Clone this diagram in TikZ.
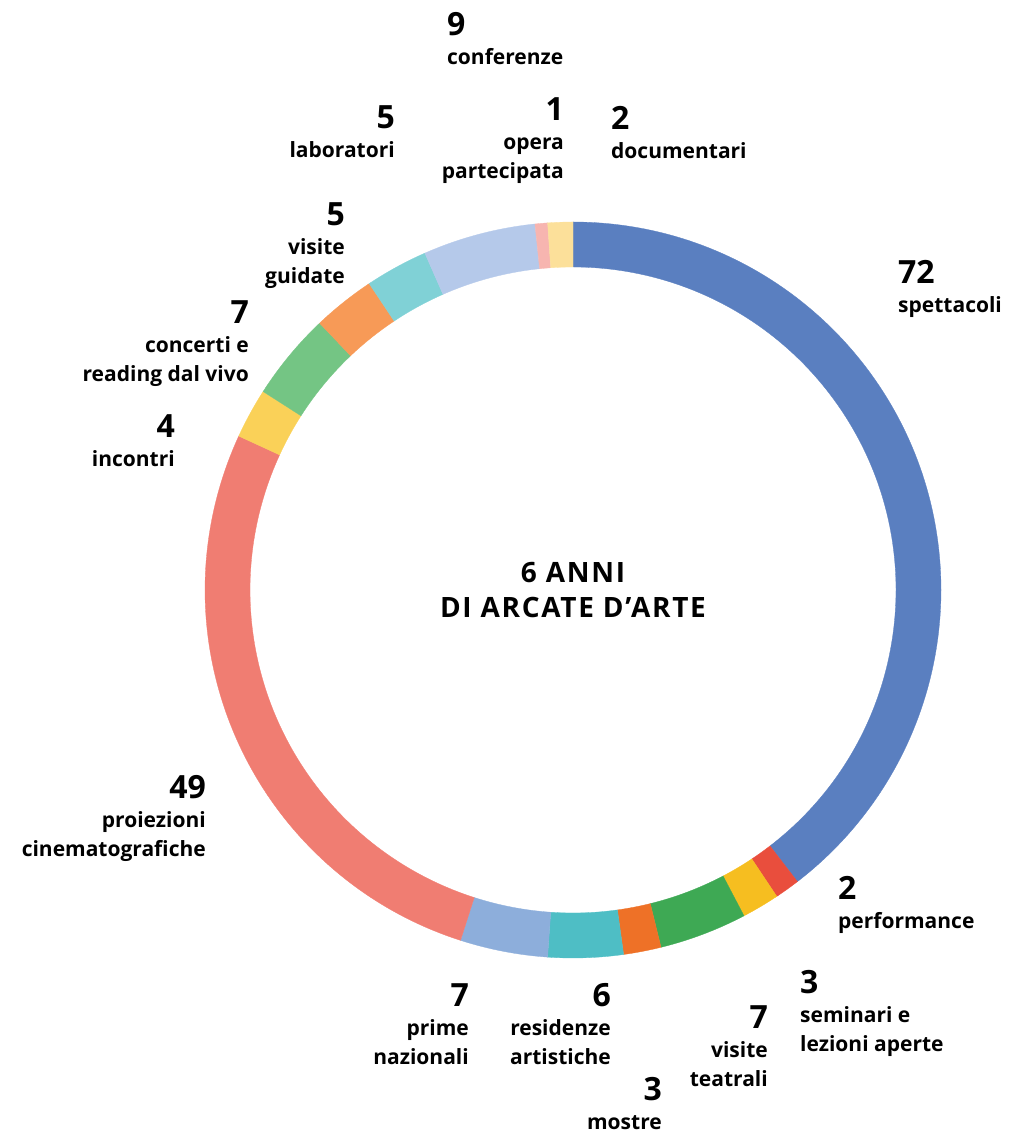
\documentclass[tikz,border=0pt]{standalone}
\usepackage{fontspec}
\setmainfont{Open Sans}
\definecolor{spettacoli}{HTML}{5A7FC0}
\definecolor{performance}{HTML}{E94E3D}
\definecolor{seminari}{HTML}{F6BE20}
\definecolor{teatrali}{HTML}{3EA954}
\definecolor{mostre}{HTML}{EE7127}
\definecolor{residenze}{HTML}{4EBEC5}
\definecolor{prime}{HTML}{8DAEDB}
\definecolor{proiezioni}{HTML}{F07D72}
\definecolor{incontri}{HTML}{FAD158}
\definecolor{concerti}{HTML}{74C584}
\definecolor{guidate}{HTML}{F79A57}
\definecolor{laboratori}{HTML}{80D1D6}
\definecolor{conferenze}{HTML}{B5C9EA}
\definecolor{opera}{HTML}{F7B5B0}
\definecolor{documentari}{HTML}{FCE09A}
\newcommand{\numsize}{\fontsize{32}{29}\selectfont}
\newcommand{\lbl}[2]{{\numsize #1}\\#2}
\tikzset{
  label text/.style={inner sep=0pt,font=\bfseries\fontsize{21}{29}\selectfont},
  labelleft/.style={label text,anchor=north west,align=left},
  labelright/.style={label text,anchor=north east,align=right},
}
\begin{document}
\begin{tikzpicture}[x=1pt,y=1pt]
  \useasboundingbox (-573,-544) rectangle (452,590);
  % ring segments, clockwise from the top
  \foreach \a/\b/\c in {90/-52.418/spettacoli, -52.418/-56.374/performance,
      -56.374/-62.308/seminari, -62.308/-76.154/teatrali, -76.154/-82.088/mostre,
      -82.088/-93.956/residenze, -93.956/-107.802/prime, -107.802/-204.725/proiezioni,
      -204.725/-212.637/incontri, -212.637/-226.483/concerti, -226.483/-236.373/guidate,
      -236.373/-246.263/laboratori, -246.263/-264.065/conferenze,
      -264.065/-266.043/opera, -266.043/-270/documentari}
    \fill[\c,draw=\c,line width=0.3pt] (\a:368) arc[start angle=\a,end angle=\b,radius=368]
      -- (\b:323) arc[start angle=\b,end angle=\a,radius=323] -- cycle;
  \node[font=\bfseries\fontsize{28}{35}\selectfont\addfontfeatures{LetterSpace=6},align=center]
    (titolo) at (0,0) {6 ANNI\\DI ARCATE D’ARTE};
  % labels
  \node[labelleft] (spettacoli) at (325,330) {\lbl{72}{spettacoli}};
  \node[labelleft] (performance) at (265,-286) {\lbl{2}{performance}};
  \node[labelleft] (seminari) at (227,-380) {\lbl{3}{seminari e\\lezioni aperte}};
  \node[labelright] (teatrali) at (195,-415) {\lbl{7}{visite\\teatrali}};
  \node[labelright] (mostre) at (89,-487) {\lbl{3}{mostre}};
  \node[labelright] (residenze) at (38,-393) {\lbl{6}{residenze\\artistiche}};
  \node[labelright] (prime) at (-104,-393) {\lbl{7}{prime\\nazionali}};
  \node[labelright] (proiezioni) at (-367,-185) {\lbl{49}{proiezioni\\cinematografiche}};
  \node[labelright] (incontri) at (-398,176) {\lbl{4}{incontri}};
  \node[labelright] (concerti) at (-324,290) {\lbl{7}{concerti e\\reading dal vivo}};
  \node[labelright] (guidate) at (-228,388) {\lbl{5}{visite\\guidate}};
  \node[labelright] (laboratori) at (-178,485) {\lbl{5}{laboratori}};
  \node[labelleft] (conferenze) at (-126,578) {\lbl{9}{conferenze}};
  \node[labelright] (opera) at (-9,493) {\lbl{1}{opera\\partecipata}};
  \node[labelleft] (documentari) at (38,484) {\lbl{2}{documentari}};
\end{tikzpicture}
\end{document}
